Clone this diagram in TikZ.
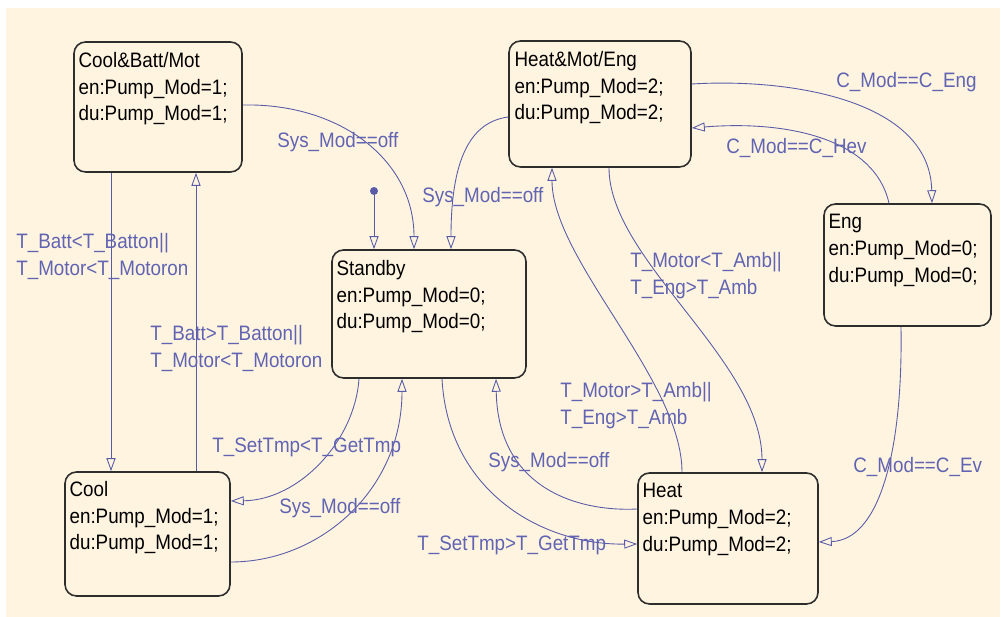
\documentclass[tikz,border=0pt]{standalone}
\usepackage{fontspec}
\setmainfont{Liberation Sans}[FakeStretch=0.9]
\usetikzlibrary{
    arrows.meta,
    calc,
}
\definecolor{chartbg}{RGB}{255,244,224}
\definecolor{transblue}{RGB}{88,92,168}
\definecolor{guardblue}{RGB}{96,100,178}
\definecolor{stateedge}{RGB}{45,45,45}
\newcommand{\chartfont}{\fontsize{11.9pt}{15.1pt}\selectfont}
\tikzset{
    % State styles
    state/.style={rectangle, draw=stateedge, line width=0.9pt, rounded corners=6.5pt, fill=chartbg},
    state text/.style={anchor=north west, inner sep=0pt, align=left, font=\chartfont, text=black},
    % Transition styles
    trans/.style={draw=transblue, line width=0.5pt, -{Triangle[open, length=2.6mm, width=1.8mm]}},
    guard/.style={anchor=north west, inner sep=0pt, align=left, font=\chartfont, text=guardblue},
    initdot/.style={circle, fill=transblue, minimum size=1.6mm, inner sep=0pt},
}

\begin{document}
\begin{tikzpicture}[x=0.02cm, y=-0.02cm]
    \useasboundingbox (0,0) rectangle (1002,617);
    \fill[chartbg] (6,8) rectangle (1000,617);

    % States
    \node[state, minimum width=3.36cm, minimum height=2.6cm] (cba) at (158,107) {};
    \node[state, minimum width=3.64cm, minimum height=2.52cm] (hme) at (600,104) {};
    \node[state, minimum width=3.34cm, minimum height=2.44cm] (eng) at (907.5,265) {};
    \node[state, minimum width=3.88cm, minimum height=2.56cm] (sb) at (429,314) {};
    \node[state, minimum width=3.3cm, minimum height=2.48cm] (cool) at (147.5,534) {};
    \node[state, minimum width=3.6cm, minimum height=2.62cm] (heat) at (728,538.5) {};

    % State actions
    \node[state text] (cba-txt) at ($(cba.north west)+(5,11)$) {Cool\&Batt/Mot\\en:Pump\_Mod=1;\\du:Pump\_Mod=1;};
    \node[state text] (hme-txt) at ($(hme.north west)+(6,11)$) {Heat\&Mot/Eng\\en:Pump\_Mod=2;\\du:Pump\_Mod=2;};
    \node[state text] (eng-txt) at ($(eng.north west)+(5,11)$) {Eng\\en:Pump\_Mod=0;\\du:Pump\_Mod=0;};
    \node[state text] (sb-txt) at ($(sb.north west)+(5,11)$) {Standby\\en:Pump\_Mod=0;\\du:Pump\_Mod=0;};
    \node[state text] (cool-txt) at ($(cool.north west)+(5,10)$) {Cool\\en:Pump\_Mod=1;\\du:Pump\_Mod=1;};
    \node[state text] (heat-txt) at ($(heat.north west)+(5,11)$) {Heat\\en:Pump\_Mod=2;\\du:Pump\_Mod=2;};

    % Default transition
    \node[initdot] (init) at (374,191) {};
    \draw[trans] (init) -- (init |- sb.north);

    % Transitions
    \draw[trans] (cba.east |- 0,105) .. controls (340,103) and (414,160) .. (414,0 |- sb.north);
    \draw[trans] (hme.west |- 0,117) .. controls (470,122) and (451,160) .. (451,0 |- sb.north);
    \draw[trans] (111,0 |- cba.south) -- (111,0 |- cool.north);
    \draw[trans] (196,0 |- cool.north) -- (196,0 |- cba.south);
    \draw[trans] (359,0 |- sb.south) .. controls (355,440) and (300,500) .. (cool.east |- 0,501);
    \draw[trans] (cool.east |- 0,562) .. controls (320,562) and (402,490) .. (402,0 |- sb.south);
    \draw[trans] (442,0 |- sb.south) .. controls (448,490) and (540,545) .. (heat.west |- 0,544);
    \draw[trans] (heat.west |- 0,509) .. controls (580,512) and (498,490) .. (496,0 |- sb.south);
    \draw[trans] (682,0 |- heat.north) .. controls (682,380) and (552,260) .. (552,0 |- hme.south);
    \draw[trans] (609,0 |- hme.south) .. controls (609,260) and (762,360) .. (762,0 |- heat.north);
    \draw[trans] (hme.east |- 0,84) .. controls (790,78) and (930,100) .. (932,0 |- eng.north);
    \draw[trans] (889,0 |- eng.north) .. controls (875,140) and (790,120) .. (hme.east |- 0,128);
    \draw[trans] (901,0 |- eng.south) .. controls (903,450) and (880,540) .. (heat.east |- 0,542);

    % Guards
    \node[guard] (g-cba-sb) at (277,132) {Sys\_Mod==off};
    \node[guard] (g-hme-sb) at (422,187) {Sys\_Mod==off};
    \node[guard] (g-cba-cool) at (16,233) {T\_Batt<T\_Batton||\\T\_Motor<T\_Motoron};
    \node[guard] (g-cool-cba) at (150,325) {T\_Batt>T\_Batton||\\T\_Motor<T\_Motoron};
    \node[guard] (g-sb-cool) at (212,438) {T\_SetTmp<T\_GetTmp};
    \node[guard] (g-cool-sb) at (279,498) {Sys\_Mod==off};
    \node[guard] (g-sb-heat) at (417,536) {T\_SetTmp>T\_GetTmp};
    \node[guard] (g-heat-sb) at (488,452) {Sys\_Mod==off};
    \node[guard] (g-heat-hme) at (560,382) {T\_Motor>T\_Amb||\\T\_Eng>T\_Amb};
    \node[guard] (g-hme-heat) at (630,252) {T\_Motor<T\_Amb||\\T\_Eng>T\_Amb};
    \node[guard] (g-hme-eng) at (836,72) {C\_Mod==C\_Eng};
    \node[guard] (g-eng-hme) at (726,138) {C\_Mod==C\_Hev};
    \node[guard] (g-eng-heat) at (853,457) {C\_Mod==C\_Ev};
\end{tikzpicture}
\end{document}
